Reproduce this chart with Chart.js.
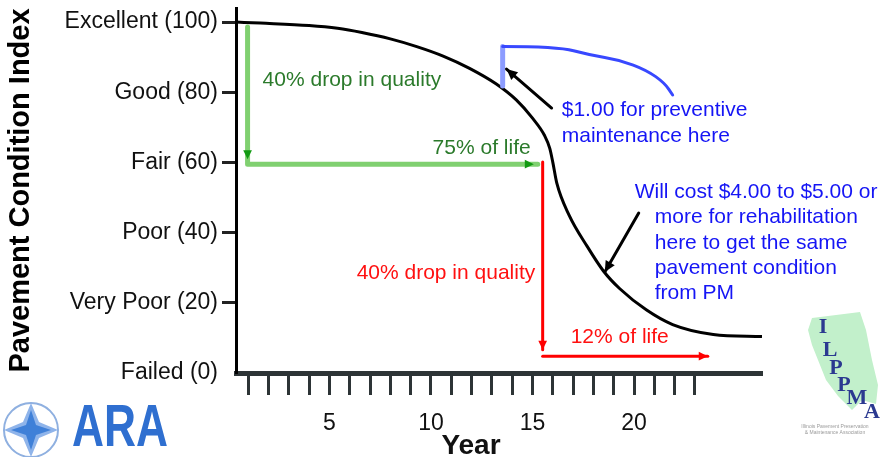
<!DOCTYPE html>
<html>
<head>
<meta charset="utf-8">
<script src="https://cdn.jsdelivr.net/npm/chart.js@4"></script>
<style>
  html, body { margin: 0; padding: 0; background: #fff; }
  #wrap { width: 886px; height: 457px; }
</style>
</head>
<body>
<div id="wrap"><canvas id="pciChart" width="886" height="457"></canvas></div>
<script>
// Pavement deterioration curve (year, PCI)
const years = [0.4, 1.6, 4.0, 5.4, 6.6, 8.0, 9.3, 10.6, 11.9, 13.2, 14.2, 15.0, 15.6, 15.85, 16.0, 16.2, 16.8, 17.7, 18.5, 19.3, 20.6, 21.9, 23.9, 26.3];
const pci = [100, 99.7, 99.0, 98.2, 97.0, 95.2, 93.0, 90.3, 86.8, 82.4, 77.8, 72.6, 67.6, 64.0, 60.0, 54.0, 45.0, 36.0, 29.0, 24.0, 18.0, 13.8, 11.0, 10.4];

// Axis ticks
const yTickValues = [0, 20, 40, 60, 80, 100];
const yTickLabels = ['Failed (0)', 'Very Poor (20)', 'Poor (40)', 'Fair (60)', 'Good (80)', 'Excellent (100)'];
const xTickValues = [1, 2, 3, 4, 5, 6, 7, 8, 9, 10, 11, 12, 13, 14, 15, 16, 17, 18, 19, 20, 21, 22, 23];
const xLabelled = [5, 10, 15, 20];

// Annotation paths, in chart units [year, PCI]
const greenPath = [[0.97, 98.6], [0.97, 59.5], [15.26, 59.5]];
const redDrop = [[15.5, 60.1], [15.5, 6.6]];
const redLife = [[15.5, 4.8], [23.63, 4.8]];
const pmTick = [[13.53, 81.8], [13.53, 93.0]];
const pmBracket = [[13.53, 93.0], [16.23, 93.0], [17.81, 90.6], [19.3, 89.2], [20.62, 86.3], [21.51, 82.6], [21.9, 79.2]];
const pmArrow = [[15.94, 75.5], [13.72, 86.6]];
const rehabArrow = [[20.23, 45.6], [18.56, 28.8]];

const notes = [
  { text: '40% drop in quality', x: 1.71, y: 83.5, color: '#2b7a2b' },
  { text: '75% of life', x: 10.08, y: 64.1, color: '#2b7a2b' },
  { text: '40% drop in quality', x: 6.34, y: 28.5, color: '#ff1010' },
  { text: '12% of life', x: 16.88, y: 10.3, color: '#ff1010' },
  { text: '$1.00 for preventive', x: 16.44, y: 74.9, color: '#1515f5' },
  { text: 'maintenance here', x: 16.44, y: 67.5, color: '#1515f5' },
  { text: 'Will cost $4.00 to $5.00 or', x: 20.03, y: 51.6, color: '#1515f5' },
  { text: 'more for rehabilitation', x: 21.02, y: 44.4, color: '#1515f5' },
  { text: 'here to get the same', x: 21.02, y: 37.0, color: '#1515f5' },
  { text: 'pavement condition', x: 21.02, y: 29.9, color: '#1515f5' },
  { text: 'from PM', x: 21.02, y: 22.8, color: '#1515f5' }
];

const FONT = '"Liberation Sans", Arial, sans-serif';

function arrowHead(ctx, x1, y1, x2, y2, size, color) {
  const a = Math.atan2(y2 - y1, x2 - x1);
  ctx.save();
  ctx.fillStyle = color;
  ctx.beginPath();
  ctx.moveTo(x2, y2);
  ctx.lineTo(x2 - size * Math.cos(a - 0.45), y2 - size * Math.sin(a - 0.45));
  ctx.lineTo(x2 - size * Math.cos(a + 0.45), y2 - size * Math.sin(a + 0.45));
  ctx.closePath();
  ctx.fill();
  ctx.restore();
}

function strokePath(ctx, pts, color, width, smooth) {
  ctx.save();
  ctx.strokeStyle = color;
  ctx.lineWidth = width;
  ctx.lineJoin = 'round';
  ctx.lineCap = 'round';
  ctx.beginPath();
  ctx.moveTo(pts[0][0], pts[0][1]);
  if (smooth) {
    // quadratic through midpoints
    for (let i = 1; i < pts.length - 1; i++) {
      const mx = (pts[i][0] + pts[i + 1][0]) / 2, my = (pts[i][1] + pts[i + 1][1]) / 2;
      ctx.quadraticCurveTo(pts[i][0], pts[i][1], mx, my);
    }
    ctx.lineTo(pts[pts.length - 1][0], pts[pts.length - 1][1]);
  } else {
    pts.slice(1).forEach(p => ctx.lineTo(p[0], p[1]));
  }
  ctx.stroke();
  ctx.restore();
}

// Draw the arrows and notes over the curve
const notesPlugin = {
  id: 'notes',
  afterDatasetsDraw(chart) {
    const { ctx, scales: { x, y } } = chart;
    const px = p => [x.getPixelForValue(p[0]), y.getPixelForValue(p[1])];

    // green: quality drop + life span
    const g = greenPath.map(px);
    strokePath(ctx, g, '#80d070', 5);
    arrowHead(ctx, g[0][0], g[0][1], g[0][0], g[1][1] - 5, 10, '#129a12');
    arrowHead(ctx, g[1][0], g[2][1], g[2][0] - 4, g[2][1], 10, '#129a12');

    // red: second drop + life span
    const r1 = redDrop.map(px);
    strokePath(ctx, r1, '#ff0000', 3);
    arrowHead(ctx, r1[0][0], r1[0][1], r1[1][0], r1[1][1], 10, '#ff0000');
    const r2 = redLife.map(px);
    strokePath(ctx, r2, '#ff0000', 3);
    arrowHead(ctx, r2[0][0], r2[0][1], r2[1][0], r2[1][1], 10, '#ff0000');

    // blue bracket for preventive maintenance
    strokePath(ctx, pmTick.map(px), '#8c9cff', 5);
    strokePath(ctx, pmBracket.map(px), '#3848ff', 3, true);

    // black pointer arrows
    [pmArrow, rehabArrow].forEach(a => {
      const p = a.map(px);
      strokePath(ctx, p, '#000', 3);
      arrowHead(ctx, p[0][0], p[0][1], p[1][0], p[1][1], 12, '#000');
    });

    ctx.save();
    ctx.font = '21px ' + FONT;
    ctx.textBaseline = 'middle';
    ctx.textAlign = 'left';
    notes.forEach(n => {
      const [nx, ny] = px([n.x, n.y]);
      ctx.fillStyle = n.color;
      ctx.fillText(n.text, nx, ny);
    });
    ctx.restore();
  },
  afterDraw(chart) {
    const ctx = chart.ctx;
    // x axis title
    ctx.save();
    ctx.font = 'bold 28px ' + FONT;
    ctx.fillStyle = '#111';
    ctx.textAlign = 'center';
    ctx.textBaseline = 'alphabetic';
    ctx.fillText('Year', 471, 454);
    ctx.restore();
    drawAraLogo(ctx);
    drawIlppmaLogo(ctx);
  }
};

function drawAraLogo(ctx) {
  const cx = 31, cy = 430, r = 27;
  ctx.save();
  ctx.strokeStyle = '#8fb0e0';
  ctx.lineWidth = 2;
  ctx.beginPath();
  ctx.arc(cx, cy, r, 0, Math.PI * 2);
  ctx.stroke();
  ctx.fillStyle = '#8fb4ea';
  ctx.beginPath();
  ctx.moveTo(cx, cy - r); ctx.lineTo(cx + 8, cy - 8);
  ctx.lineTo(cx + r, cy); ctx.lineTo(cx + 8, cy + 8);
  ctx.lineTo(cx, cy + r); ctx.lineTo(cx - 8, cy + 8);
  ctx.lineTo(cx - r, cy); ctx.lineTo(cx - 8, cy - 8);
  ctx.closePath();
  ctx.fill();
  ctx.fillStyle = '#3f80d8';
  ctx.beginPath();
  ctx.moveTo(cx, cy - 20); ctx.lineTo(cx + 5, cy - 5);
  ctx.lineTo(cx + 20, cy); ctx.lineTo(cx + 5, cy + 5);
  ctx.lineTo(cx, cy + 20); ctx.lineTo(cx - 5, cy + 5);
  ctx.lineTo(cx - 20, cy); ctx.lineTo(cx - 5, cy - 5);
  ctx.closePath();
  ctx.fill();
  ctx.font = 'bold 60px ' + FONT;
  ctx.fillStyle = '#2f6fd0';
  const w = ctx.measureText('ARA').width;
  ctx.translate(72, 446);
  ctx.scale(96 / w, 1);
  ctx.fillText('ARA', 0, 0);
  ctx.restore();
}

function drawIlppmaLogo(ctx) {
  ctx.save();
  ctx.fillStyle = '#c2f0cb';
  ctx.beginPath();
  const shape = [[812, 318], [860, 312], [866, 330], [872, 360], [878, 385], [876, 404], [862, 400], [852, 410], [838, 396], [826, 380], [818, 360], [812, 345], [808, 330]];
  shape.forEach((p, i) => i ? ctx.lineTo(p[0], p[1]) : ctx.moveTo(p[0], p[1]));
  ctx.closePath();
  ctx.fill();
  ctx.fillStyle = '#2b3990';
  ctx.font = 'bold 22px "Liberation Serif", serif';
  ctx.textAlign = 'center';
  ctx.textBaseline = 'middle';
  [['I', 823, 327], ['L', 830, 350], ['P', 836, 368], ['P', 844, 385], ['M', 857, 398], ['A', 872, 412]].forEach(l => ctx.fillText(l[0], l[1], l[2]));
  ctx.fillStyle = '#9a9a9a';
  ctx.font = '5px ' + FONT;
  ctx.fillText('Illinois Pavement Preservation', 835, 427);
  ctx.fillText('& Maintenance Association', 835, 433);
  ctx.restore();
}

new Chart(document.getElementById('pciChart'), {
  type: 'line',
  data: {
    datasets: [{
      data: years.map((yr, i) => ({ x: yr, y: pci[i] })),
      borderColor: '#000',
      borderWidth: 3,
      pointRadius: 0,
      fill: false,
      cubicInterpolationMode: 'monotone'
    }]
  },
  options: {
    responsive: false,
    animation: false,
    layout: { padding: { top: 8, right: 124, left: 0, bottom: 0 } },
    plugins: {
      legend: { display: false },
      tooltip: { enabled: false }
    },
    scales: {
      x: {
        type: 'linear',
        min: 0.4,
        max: 26.3,
        afterBuildTicks: s => { s.ticks = xTickValues.map(v => ({ value: v })); },
        afterFit: s => { s.height = 84; s.paddingLeft = 0; s.paddingRight = 0; },
        grid: { drawOnChartArea: false, tickLength: 22, tickWidth: 3, tickColor: '#2d3436' },
        border: { color: '#2d3436', width: 5 },
        ticks: {
          autoSkip: false,
          maxRotation: 0,
          padding: 15,
          color: '#111',
          font: { family: FONT, size: 23 },
          callback: v => xLabelled.includes(v) ? String(v) : ''
        }
      },
      y: {
        min: 0,
        max: 104,
        afterBuildTicks: s => { s.ticks = yTickValues.map(v => ({ value: v })); },
        afterFit: s => { s.width = 236; s.paddingTop = 0; s.paddingBottom = 0; },
        grid: {
          drawOnChartArea: false,
          tickLength: 14,
          tickWidth: 3,
          tickColor: c => (c.tick && c.tick.value === 0) ? 'rgba(0,0,0,0)' : '#222'
        },
        border: { color: '#000', width: 3 },
        ticks: {
          padding: 4,
          color: '#111',
          font: { family: FONT, size: 23 },
          callback: v => yTickLabels[yTickValues.indexOf(v)]
        },
        title: {
          display: true,
          text: 'Pavement Condition Index',
          color: '#000',
          font: { family: FONT, size: 29, weight: 'bold' },
          padding: { top: 4, bottom: 0 }
        }
      }
    }
  },
  plugins: [notesPlugin]
});
</script>
</body>
</html>
